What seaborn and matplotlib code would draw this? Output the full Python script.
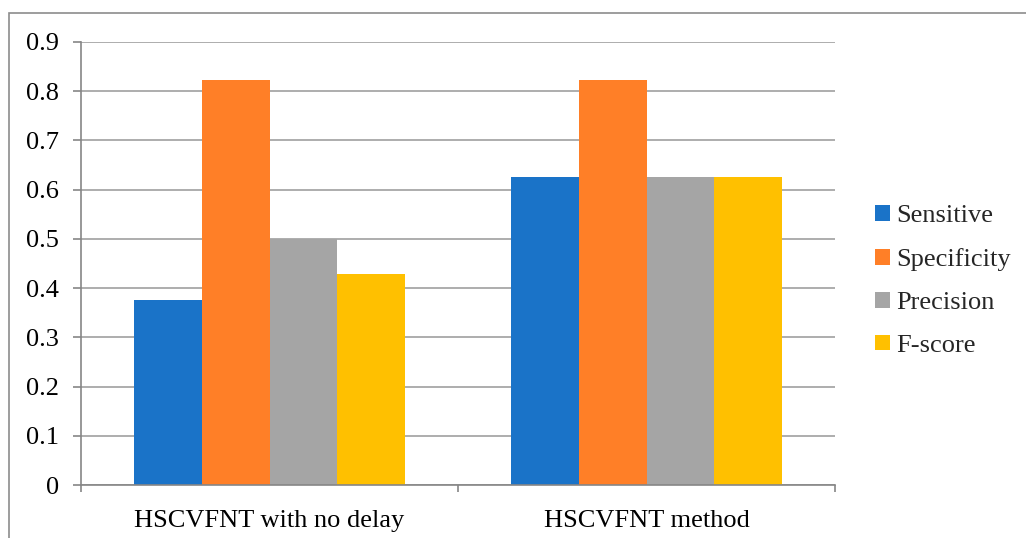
import matplotlib
matplotlib.use("Agg")
import matplotlib.pyplot as plt
import seaborn as sns
import pandas as pd
from matplotlib.patches import Rectangle

categories = ["HSCVFNT with no delay", "HSCVFNT method"]
metrics = ["Sensitive", "Specificity", "Precision", "F-score"]
sensitive = [0.375, 0.625]
specificity = [0.8235, 0.8235]
precision = [0.5, 0.625]
fscore = [0.4286, 0.625]
colors = ["#1a73c8", "#ff7f27", "#a5a5a5", "#ffc000"]

rows = []
for i, c in enumerate(categories):
    for m, vals in zip(metrics, [sensitive, specificity, precision, fscore]):
        rows.append({"Category": c, "Metric": m, "Value": vals[i]})
df = pd.DataFrame(rows)

sns.set_theme(style="white")
plt.rcParams['font.family'] = ['Liberation Serif', 'DejaVu Serif']

fig = plt.figure(figsize=(10.26, 5.38), dpi=100)
ax = fig.add_axes([81/1026, 1 - 485/538, (835-81)/1026, (485-42)/538])

sns.barplot(data=df, x="Category", y="Value", hue="Metric", palette=colors,
            width=0.72, gap=0, ax=ax, saturation=1, errorbar=None, legend=False)
for p in ax.patches:
    p.set_edgecolor("none")

ax.set_ylim(0, 0.9)
ax.set_xlim(-0.5, 1.5)
ax.set_yticks([i/10 for i in range(10)])
ax.set_yticklabels(["0"] + [f"0.{i}" for i in range(1, 10)])
ax.yaxis.grid(True, color="#a0a0a0", linewidth=1.2)
ax.set_axisbelow(True)
ax.set_xlabel("")
ax.set_ylabel("")
for s in ["top", "right"]:
    ax.spines[s].set_visible(False)
for s in ["left", "bottom"]:
    ax.spines[s].set_color("#868686")
    ax.spines[s].set_linewidth(1.2)

ax.tick_params(axis="y", which="both", left=True, length=6, width=1.2, color="#868686",
               labelsize=19, pad=10, labelcolor="black")
ax.set_xticks([0, 1])
ax.set_xticklabels(categories)
ax.tick_params(axis="x", which="major", bottom=False, labelsize=19, pad=12, labelcolor="black")
ax.set_xticks([-0.5, 0.5, 1.5], minor=True)
ax.tick_params(axis="x", which="minor", bottom=True, length=5, width=1.2, color="#868686")

handles = [Rectangle((0, 0), 1, 1, facecolor=c, edgecolor="none") for c in colors]
fig.legend(handles, metrics, loc="center left", bbox_to_anchor=(875/1026, 1 - 281/538),
           frameon=False, fontsize=19, handlelength=0.55, handleheight=0.55,
           handletextpad=0.25, labelspacing=0.78, borderaxespad=0, borderpad=0)

fig.patches.append(Rectangle((9/1026, -0.1), 1.2, 1 - 13/538 + 0.1, transform=fig.transFigure,
                             fill=False, edgecolor="#8c8c8c", linewidth=1.2))

fig.savefig("out.png", dpi=100)
